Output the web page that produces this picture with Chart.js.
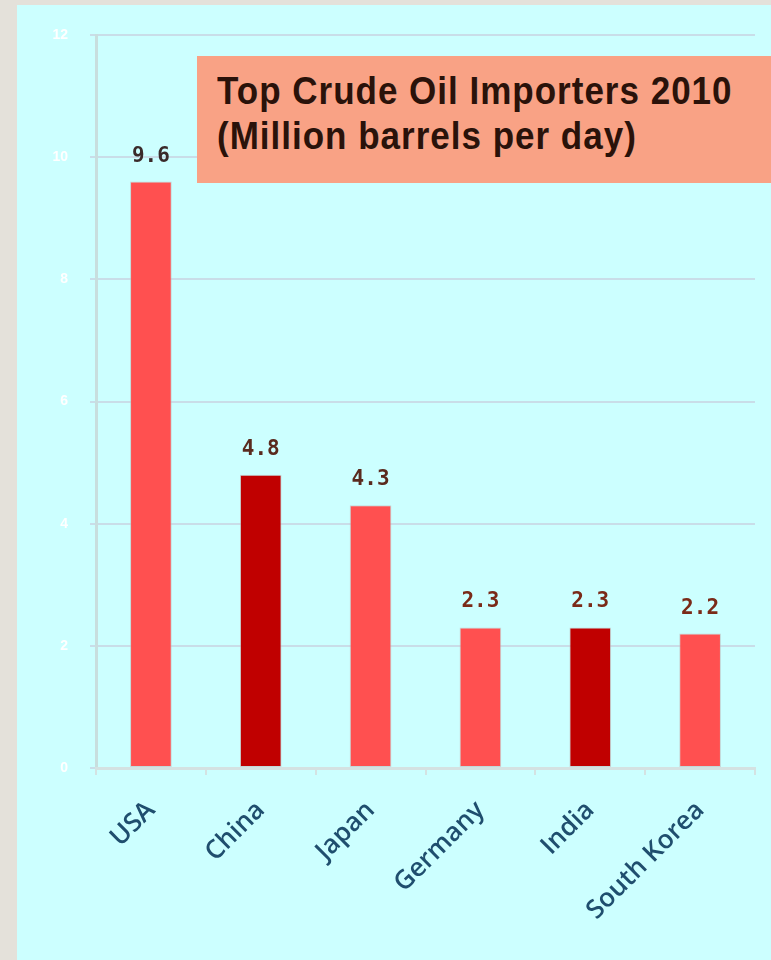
<!DOCTYPE html>
<html>
<head>
<meta charset="utf-8">
<script src="https://cdn.jsdelivr.net/npm/chart.js@4.4.1/dist/chart.umd.min.js"></script>
<style>
  html, body { margin: 0; padding: 0; }
  body { width: 771px; height: 960px; background: #e4e1da; position: relative; overflow: hidden; }
  #panel { position: absolute; left: 17px; top: 5px; width: 754px; height: 955px; background: #ccffff; }
  #wrap { position: absolute; left: 0; top: 0; width: 771px; height: 960px; }
  #titlebox {
    position: absolute; left: 197px; top: 56px; width: 574px; height: 127px;
    background: #f9a285; box-sizing: border-box; padding: 12px 0 0 20px;
    font-family: "Liberation Sans", Arial, sans-serif; font-weight: bold;
    font-size: 35px; line-height: 40px; color: #2a120a; letter-spacing: 1px;
  }
  #titlebox span { display: inline-block; transform: scaleY(1.12); transform-origin: 0 0; }
</style>
</head>
<body>
<div id="panel"></div>
<div id="wrap"><canvas id="myChart" width="771" height="960"></canvas></div>
<div id="titlebox"><span>Top Crude Oil Importers 2010<br>(Million barrels per day)</span></div>
<script>
var countries = ["USA", "China", "Japan", "Germany", "India", "South Korea"];
var imports = [9.6, 4.8, 4.3, 2.3, 2.3, 2.2];
var barColors = ["#ff5050", "#c00000", "#ff5050", "#ff5050", "#c00000", "#ff5050"];
var labelColors = ["#3a2a2a", "#5a2a1e", "#5a2a1e", "#7a2a18", "#7a2a18", "#7a2a18"];
var yTicks = [0, 2, 4, 6, 8, 10, 12];

// value labels above each bar
var valueLabels = {
  id: 'valueLabels',
  afterDatasetsDraw: function(chart) {
    var ctx = chart.ctx;
    var meta = chart.getDatasetMeta(0);
    ctx.save();
    ctx.font = 'bold 21px "DejaVu Sans Mono", monospace';
    ctx.textAlign = 'center';
    ctx.textBaseline = 'bottom';
    meta.data.forEach(function(bar, i) {
      ctx.fillStyle = labelColors[i];
      ctx.fillText(imports[i].toFixed(1), bar.x, bar.y - 15);
    });
    ctx.restore();
  }
};

var ctx = document.getElementById("myChart").getContext('2d');

var myChart = new Chart(ctx, {
    type: 'bar',
    data: {
        labels: countries,
        datasets: [{
            label: 'Million barrels per day',
            data: imports,
            backgroundColor: barColors,
            borderColor: 'rgba(190,190,190,0.6)',
            borderWidth: 1,
            borderSkipped: false,
            barPercentage: 0.38,
            categoryPercentage: 1.0
        }]
    },
    plugins: [valueLabels],
    options: {
      responsive: false,
      animation: false,
      layout: { padding: { top: 35, right: 16, bottom: 0, left: 0 } },
      plugins: {
        legend: { display: false },
        title: { display: false },
        tooltip: { enabled: false }
      },
      scales: {
        y: {
          min: 0,
          max: 12,
          afterFit: function(scale) { scale.width = 96; },
          afterBuildTicks: function(scale) {
            scale.ticks = yTicks.map(function(v) { return { value: v }; });
          },
          ticks: { color: '#ffffff', font: { family: 'Arial', size: 14, weight: 'bold' }, padding: 22 },
          grid: { color: '#c9dde8', lineWidth: 2, tickLength: 6 },
          border: { color: '#c8dede', width: 3 }
        },
        x: {
          afterFit: function(scale) { scale.height = 192; },
          ticks: {
            color: '#1f4e6e',
            font: { family: '"Open Sans", sans-serif', size: 26, weight: '600' },
            minRotation: 45,
            maxRotation: 45,
            padding: 20
          },
          grid: { drawOnChartArea: false, color: '#d4e2e2', lineWidth: 2, tickLength: 7, offset: true },
          border: { color: '#d4e2e2', width: 3 }
        }
      }
    }
});
</script>
</body>
</html>
